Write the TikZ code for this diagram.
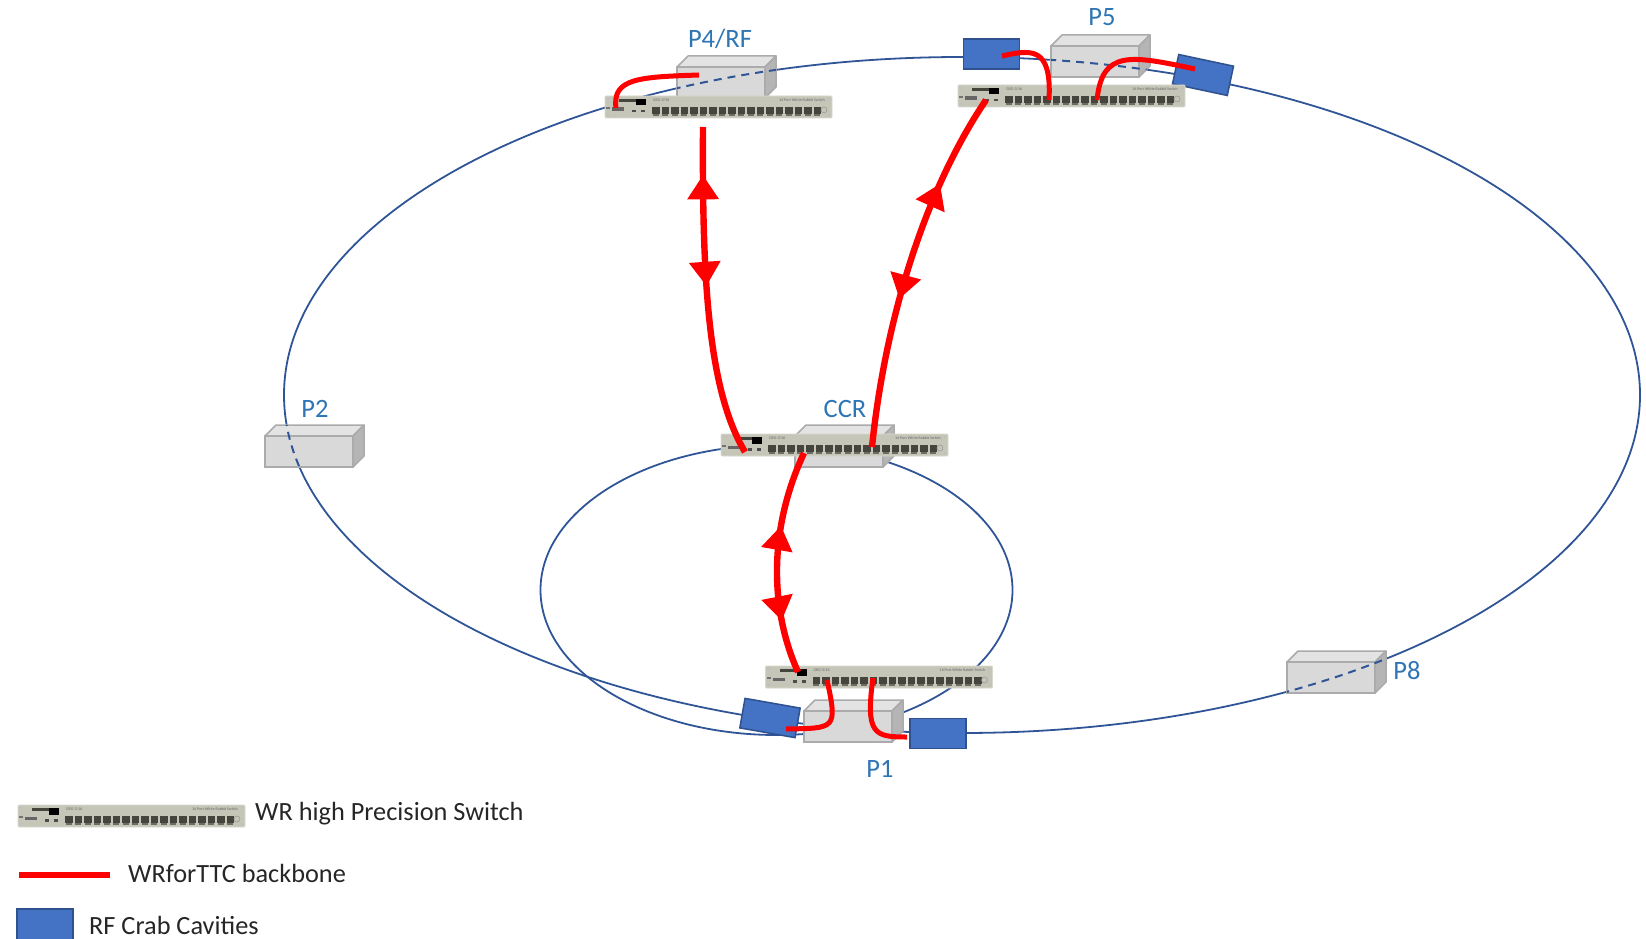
\documentclass[tikz,border=0pt]{standalone}
\usepackage{fontspec}
\setmainfont{Carlito}
\usetikzlibrary{arrows.meta,decorations.markings}

\definecolor{ringblue}{HTML}{2F5597}
\definecolor{labelblue}{HTML}{2E75B6}
\definecolor{cavityfill}{HTML}{4472C4}
\definecolor{cavityline}{HTML}{2F528F}
\definecolor{boxfront}{HTML}{D9D9D9}
\definecolor{boxtop}{HTML}{E3E3E3}
\definecolor{boxside}{HTML}{B5B5B5}
\definecolor{boxline}{HTML}{ABABAB}
\definecolor{panel}{HTML}{C6C6B8}
\definecolor{panelline}{HTML}{D8D8CC}
\definecolor{portdark}{HTML}{45453E}
\definecolor{fibre}{HTML}{FF0000}

\tikzset{
  ring/.style={draw=ringblue,line width=1.8pt},
  ringdash/.style={ring,line width=2pt,dash pattern=on 8pt off 6pt},
  backbone/.style={draw=fibre,line width=6.4pt},
  localfibre/.style={draw=fibre,line width=5pt},
  cavity/.style={draw=cavityline,line width=1.5pt,fill=cavityfill,minimum width=56pt,minimum height=30pt,inner sep=0pt,outer sep=0pt},
  sitelabel/.style={text=labelblue,font=\fontsize{26.5}{30}\selectfont,inner sep=0pt},
  legendtext/.style={text=black!85,font=\fontsize{26.3}{30}\selectfont,inner sep=0pt,anchor=west},
  paneltext/.style={text=black!60,font=\fontsize{4}{5}\selectfont,inner sep=0pt},
  % #1: position of the tip pointing back along the path, #2: of the tip pointing forward
  twoway/.style 2 args={postaction={decorate},decoration={markings,
    mark=at position #1 with {\arrowreversed[fibre,line width=0pt]{Triangle[length=24pt,width=32pt]}},
    mark=at position #2 with {\arrow[fibre,line width=0pt]{Triangle[length=24pt,width=32pt]}}}}
}

% Equipment box: front face with corner (#2,#3), width #4, height 31, depth 11
\newcommand{\sitebox}[4]{%
  \path[fill=boxtop,draw=boxline,line width=1.5pt,line join=round]
    (#2,#3) -- ++(11,-11) -- ++(#4,0) -- ++(-11,11) -- cycle;
  \path[fill=boxside,draw=boxline,line width=1.5pt,line join=round]
    (#2+#4,#3) -- ++(11,-11) -- ++(0,31) -- ++(-11,11) -- cycle;
  \node[draw=boxline,fill=boxfront,line width=1.5pt,anchor=north west,minimum width=#4 pt,minimum height=31pt,inner sep=0pt,outer sep=0pt] (#1) at (#2,#3) {};
}

% Dashed part of the ring where it runs across a box
\newcommand{\ringcross}[4]{%
  \begin{scope}
    \clip (#1,#2) -- ++(11,-11) -- ++(#3,0) -- ++(0,31) -- ++(-11,11) -- ++(-#3,0) -- cycle;
    \draw[ringdash] #4;
  \end{scope}
}

% White Rabbit switch front panel, 227 wide and 22 high
\newcommand{\wrswitch}[3]{%
  \begin{scope}[shift={(#2,#3)}]
    \node[anchor=north west,minimum width=227pt,minimum height=22pt,inner sep=0pt,outer sep=0pt,
      fill=panel,draw=panelline,line width=.8pt,rounded corners=1pt] (#1) at (0,0) {};
    \fill[portdark] (14,3.4) rectangle (32,6.4);
    \fill[black] (31,3.4) rectangle (41,9.5);
    \fill[black!60] (7,11.5) rectangle (19,15);
    \fill[black!70] (27,14) rectangle (31,16.5);
    \fill[black!70] (36,14) rectangle (40,16.5);
    \fill[black!55] (1,11) rectangle (5,13);
    \foreach \pos in {47,56.5,...,216} {
      \fill[portdark] (\pos,10.8) rectangle +(7.8,7);
      \fill[panel!55!black] (\pos+.8,18.4) rectangle +(6,1.6);
    }
    \node[paneltext,anchor=west] (#1model) at (48,4.6) {GRG-3/16};
    \node[paneltext,anchor=east] (#1name) at (220,4.6) {16 Port White Rabbit Switch};
    \draw[black!40,line width=.6pt] (219,14) circle (3);
    \foreach \cx/\cy in {3/3,3/19,224/3,224/19} \fill[white!75!black] (\cx,\cy) circle (1.5);
  \end{scope}%
}

\begin{document}
\begin{tikzpicture}[x=1pt,y=-1pt]
% Rings
\coordinate (bigc) at (962,395);
\coordinate (smallc) at (776.5,590);
\draw[ring] (bigc) ellipse [x radius=678,y radius=338];
\draw[ring] (smallc) ellipse [x radius=236,y radius=145];

% Equipment boxes at the interaction points
\sitebox{boxpfour}{677}{67}{88}
\ringcross{677}{67}{88}{(bigc) ellipse [x radius=678,y radius=338]}
\sitebox{boxpfive}{1051}{46}{88}
\ringcross{1051}{46}{88}{(bigc) ellipse [x radius=678,y radius=338]}
\sitebox{boxptwo}{265}{436}{88}
\ringcross{265}{436}{88}{(bigc) ellipse [x radius=678,y radius=338]}
\sitebox{boxpeight}{1287}{662}{88}
\ringcross{1287}{662}{88}{(bigc) ellipse [x radius=678,y radius=338]}
\sitebox{boxccr}{795}{436}{88}
\sitebox{boxpone}{804}{711}{88}

% Crab cavities
\node[cavity,rotate=-12] (cavfiver) at (1203,75) {};
\node[cavity] (cavfivel) at (991.5,54) {};
\node[cavity,rotate=-10] (cavonel) at (770,718) {};
\node[cavity] (cavoner) at (938,733.5) {};

% Switches
\wrswitch{swpfour}{605}{96}
\wrswitch{swpfive}{958}{85}
\wrswitch{swccr}{721}{434}
\wrswitch{swpone}{765.5}{666}
\wrswitch{swlegend}{18}{805}

% Fibre end points on the panels and cavities
\coordinate (pfourdown) at (703,127);
\coordinate (ccrleft) at (745,452);
\coordinate (ccrright) at (872,447);
\coordinate (pfivedown) at (986,100);
\coordinate (ccrlow) at (804,453);
\coordinate (poneup) at (798,672);

% Backbone links
\draw[backbone,twoway={.146}{.48}] (pfourdown) .. controls (702,280) and (708,390) .. (ccrleft);
\draw[backbone,twoway={.41}{.74}] (ccrright) .. controls (885,320) and (925,190) .. (pfivedown);
\draw[backbone,twoway={.24}{.66}] (poneup) .. controls (770,610) and (768,530) .. (ccrlow);

% Local fibres
\coordinate (pfourport) at (616,108);
\coordinate (pfourbox) at (699,75);
\coordinate (pfiveporta) at (1049,100);
\coordinate (pfiveportb) at (1097,100);
\coordinate (pfivecavl) at (1002,56);
\coordinate (pfivecavr) at (1195,69);
\coordinate (poneporta) at (827,680);
\coordinate (poneportb) at (873,678);
\coordinate (onecavl) at (786,729);
\coordinate (onecavr) at (907,737);
\draw[localfibre] (pfourbox) .. controls (640,77) and (612,78) .. (pfourport);
\draw[localfibre] (pfivecavl) .. controls (1030,50) and (1052,45) .. (pfiveporta);
\draw[localfibre] (pfiveportb) .. controls (1102,50) and (1130,55) .. (pfivecavr);
\draw[localfibre] (poneporta) .. controls (838,730) and (835,728) .. (onecavl);
\draw[localfibre] (poneportb) .. controls (865,735) and (875,737) .. (onecavr);

% Site labels
\node[sitelabel] (lpfour) at (720,39) {P4/RF};
\node[sitelabel] (lpfive) at (1102,17) {P5};
\node[sitelabel] (lccr) at (845,409) {CCR};
\node[sitelabel] (lptwo) at (315,409) {P2};
\node[sitelabel] (lpone) at (880,769) {P1};
\node[sitelabel] (lpeight) at (1407,671) {P8};

% Legend
\node[legendtext] (lswitch) at (255,814) {WR high Precision Switch};
\coordinate (keya) at (19,875);
\coordinate (keyb) at (110,875);
\draw[backbone] (keya) -- (keyb);
\node[legendtext] (lbackbone) at (128,873) {WRforTTC backbone};
\node[cavity,anchor=north west,minimum height=31pt] (keycav) at (17,909) {};
\node[legendtext] (lcavity) at (89,925) {RF Crab Cavities};

% Page extent
\pgfresetboundingbox
\useasboundingbox (0,0) rectangle (1646,938.5);
\end{tikzpicture}
\end{document}
